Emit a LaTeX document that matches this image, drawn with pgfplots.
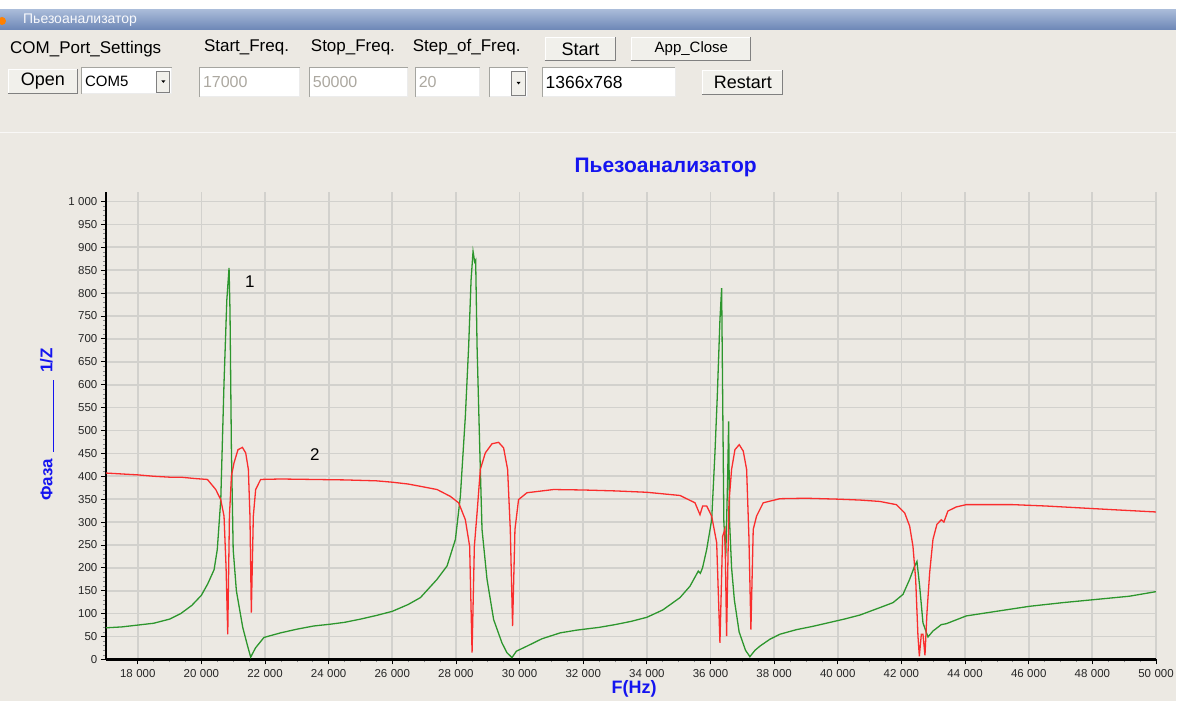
\documentclass[border=0pt]{standalone}
\usepackage{fontspec}
\setmainfont{Liberation Sans}
\usepackage{pgfplots}
\pgfplotsset{compat=1.18}
\definecolor{bg}{RGB}{236,233,227}
\definecolor{gridc}{RGB}{210,209,205}
\definecolor{tbtop}{RGB}{168,186,216}
\definecolor{tbbot}{RGB}{108,134,182}
\definecolor{btnfill}{RGB}{241,240,235}
\definecolor{btndark}{RGB}{128,128,128}
\definecolor{boxborder}{RGB}{165,165,160}
\definecolor{disabledtxt}{RGB}{172,168,160}
\definecolor{ttlblue}{RGB}{20,20,240}
\definecolor{redc}{RGB}{250,45,45}
\definecolor{greenc}{RGB}{45,150,45}

\newcommand\uibutton[6]{% x1 y1 x2 y2 text fontsize
  \fill[btnfill] (#1,{702-#4}) rectangle (#3,{702-#2});
  \draw[white,line width=1pt] ({#1+0.5},{702-#4}) -- ({#1+0.5},{702-#2-0.5}) -- (#3,{702-#2-0.5});
  \draw[btndark,line width=1pt] (#1,{702-#4+0.5}) -- ({#3-0.5},{702-#4+0.5}) -- ({#3-0.5},{702-#2});
  \node[font=\fontsize{#6}{#6}\selectfont,inner sep=0pt] at ({(#1+#3)/2},{702-(#2+#4)/2}) {#5};}
\newcommand\uibox[7]{% x1 y1 x2 y2 text textcolor fontsize
  \fill[white] (#1,{702-#4}) rectangle (#3,{702-#2});
  \draw[boxborder,line width=1pt] (#1,{702-#4}) -- (#1,{702-#2}) -- (#3,{702-#2});
  \draw[white!85!gray,line width=1pt] (#1,{702-#4}) -- (#3,{702-#4}) -- (#3,{702-#2});
  \node[anchor=west,text=#6,font=\fontsize{#7}{#7}\selectfont,inner sep=0pt] at ({#1+3},{702-(#2+#4)/2}) {#5};}
\newcommand\uidrop[4]{% x1 y1 x2 y2 of small dropdown button
  \fill[btnfill] (#1,{702-#4}) rectangle (#3,{702-#2});
  \draw[btndark,line width=0.8pt] (#1,{702-#4}) rectangle (#3,{702-#2});
  \fill[black] ({(#1+#3)/2-2},{702-(#2+#4)/2+1}) -- ({(#1+#3)/2+2},{702-(#2+#4)/2+1}) -- ({(#1+#3)/2},{702-(#2+#4)/2-1.5}) -- cycle;}

\pgfplotstableread{
f v
17000 69
17500 71
18000 75
18500 79
19000 88
19350 100
19700 118
20000 140
20200 165
20400 196
20500 240
20610 349
20712 604
20800 785
20870 855
20900 760
20944 458
21000 240
21100 150
21200 110
21300 70
21450 30
21550 5
21700 25
21967 48
22490 58
23000 66
23530 73
24060 77
24500 81
25000 88
25500 96
26000 105
26500 120
26884 135
27408 175
27721 204
27983 262
28139 356
28296 531
28400 684
28476 829
28538 891
28590 868
28620 872
28664 684
28747 465
28820 284
28977 175
29185 87
29447 36
29600 15
29761 4
29900 18
30232 29
30700 45
31277 58
31800 64
32500 70
33000 76
33500 83
34000 92
34500 108
35042 135
35356 160
35617 193
35680 188
35750 200
35880 240
36037 305
36140 451
36213 574
36297 742
36350 811
36420 300
36480 225
36540 400
36570 520
36600 300
36663 200
36750 130
36900 60
37100 20
37238 6
37400 20
37552 29
37866 44
38180 55
38700 65
39200 72
39700 80
40200 88
40700 97
41318 113
41736 124
42049 142
42259 175
42416 204
42488 214
42573 160
42677 80
42834 49
42991 62
43253 76
43410 78
44038 95
44979 105
46024 116
47069 124
48116 131
49162 138
50000 148
}\greentab

\pgfplotstableread{
f v
17000 407
17500 405
18000 403
18500 400
19000 398
19353 398
19800 395
20190 393
20452 371
20609 349
20712 313
20775 204
20829 55
20882 313
20944 400
21025 429
21151 458
21289 463
21393 451
21477 415
21527 313
21570 102
21633 313
21706 371
21863 393
22490 394
23500 393
24500 392
25500 390
26000 387
26500 383
26884 378
27408 371
27825 356
28086 342
28296 305
28431 247
28507 15
28579 247
28664 320
28767 415
28924 451
29134 471
29341 474
29498 462
29624 415
29708 284
29780 73
29855 284
29968 349
30232 364
31067 371
32000 370
33000 368
34000 365
35042 358
35513 342
35670 316
35754 335
35880 335
36037 313
36194 255
36297 36
36381 269
36454 284
36506 51
36580 342
36663 415
36768 458
36903 469
37029 455
37135 415
37207 269
37270 65
37343 284
37448 313
37657 342
38180 351
39000 352
40000 350
40700 348
41318 345
41841 338
42102 320
42259 291
42363 247
42448 175
42520 51
42563 7
42626 55
42677 55
42740 9
42803 102
42887 189
42991 262
43116 295
43253 305
43335 300
43460 324
43724 333
44038 338
45500 338
46547 335
47594 331
48639 327
50000 322
}\redtab

\begin{document}
\begin{tikzpicture}
\begin{scope}[x=1pt,y=1pt]
% window background
\fill[bg] (0,0) rectangle (1177,702);
\path[use as bounding box] (0,0) rectangle (1177,702);
\fill[white] (0,692) rectangle (1177,702);
\shade[top color=tbtop, bottom color=tbbot] (0,672) rectangle (1177,692);
\fill[orange] (2,681) circle (4);
\node[anchor=west,text=white!92!tbtop,font=\fontsize{14}{14}\selectfont,inner sep=0pt] at (23,682) {Пьезоанализатор};
% row 1
\node[anchor=west,font=\fontsize{17}{17}\selectfont,inner sep=0pt] at (10,653) {COM\_Port\_Settings};
\node[anchor=west,font=\fontsize{17}{17}\selectfont,inner sep=0pt] at (204,655) {Start\_Freq.};
\node[anchor=west,font=\fontsize{17}{17}\selectfont,inner sep=0pt] at (311,655) {Stop\_Freq.};
\node[anchor=west,font=\fontsize{17}{17}\selectfont,inner sep=0pt] at (413,655) {Step\_of\_Freq.};
\uibutton{545}{37}{617}{61}{Start}{18}
\uibutton{632}{37}{752}{61}{App\_Close}{15}
% row 2
\uibutton{8}{69}{78}{94}{Open}{18}
\uibox{82}{68}{172}{94}{COM5}{black}{15}
\uidrop{157}{71}{170}{92}
\uibox{200}{68}{300}{97}{17000}{disabledtxt}{16}
\uibox{310}{68}{408}{97}{50000}{disabledtxt}{16}
\uibox{416}{68}{480}{97}{20}{disabledtxt}{16}
\uibox{490}{68}{528}{97}{}{black}{15}
\uidrop{512}{71}{526}{95}
\uibox{543}{68}{676}{97}{1366x768}{black}{17.5}
\uibutton{703}{70}{784}{95}{Restart}{18}
% separator
\draw[white!70!bg,line width=1pt] (0,569) -- (1177,569);
\end{scope}

\begin{axis}[
  at={(106pt,42pt)}, anchor=south west,
  scale only axis, width=1051pt, height=467.5pt,
  xmin=17000, xmax=50000, ymin=0, ymax=1020,
  axis lines=left,
  axis line style={line width=2.5pt, black, -},
  xtick={18000,20000,...,50000},
  ytick={0,50,...,1000},
  minor x tick num=3, minor y tick num=4,
  grid=major,
  major grid style={line width=1.7pt, gridc},
  tick align=outside,
  major tick length=5pt, minor tick length=3pt,
  every major tick/.style={black, line width=0.8pt},
  every minor tick/.style={black!45, line width=0.6pt},
  scaled ticks=false,
  /pgf/number format/1000 sep={\hspace{0.3em}},
  /pgf/number format/assume math mode=true,
  tick label style={font=\fontsize{11.5}{12}\selectfont, text=black!85},
  xticklabel style={yshift=-2pt},
  title={Пьезоанализатор},
  title style={at={(axis description cs:0.533,1.029)}, anchor=base, font=\fontsize{21}{21}\selectfont\bfseries, text=ttlblue},
  xlabel={F(Hz)},
  xlabel style={at={(axis description cs:0.503,-0.064)}, anchor=center, font=\fontsize{18}{18}\selectfont\bfseries, text=ttlblue},
  ylabel={Фаза\hspace{7pt}\rule[-2pt]{72pt}{1.5pt}\hspace{7pt}1/Z},
  ylabel style={at={(axis description cs:-0.056,0.503)}, anchor=center, font=\fontsize{17}{17}\selectfont\bfseries, text=ttlblue},
]
\addplot[greenc, line width=1.3pt] table[x=f,y=v] {\greentab};
\addplot[redc, line width=1.3pt] table[x=f,y=v] {\redtab};
\node[font=\fontsize{17}{17}\selectfont] at (axis cs:21526,825) {1};
\node[font=\fontsize{17}{17}\selectfont] at (axis cs:23570,447) {2};
\end{axis}
\end{tikzpicture}
\end{document}
